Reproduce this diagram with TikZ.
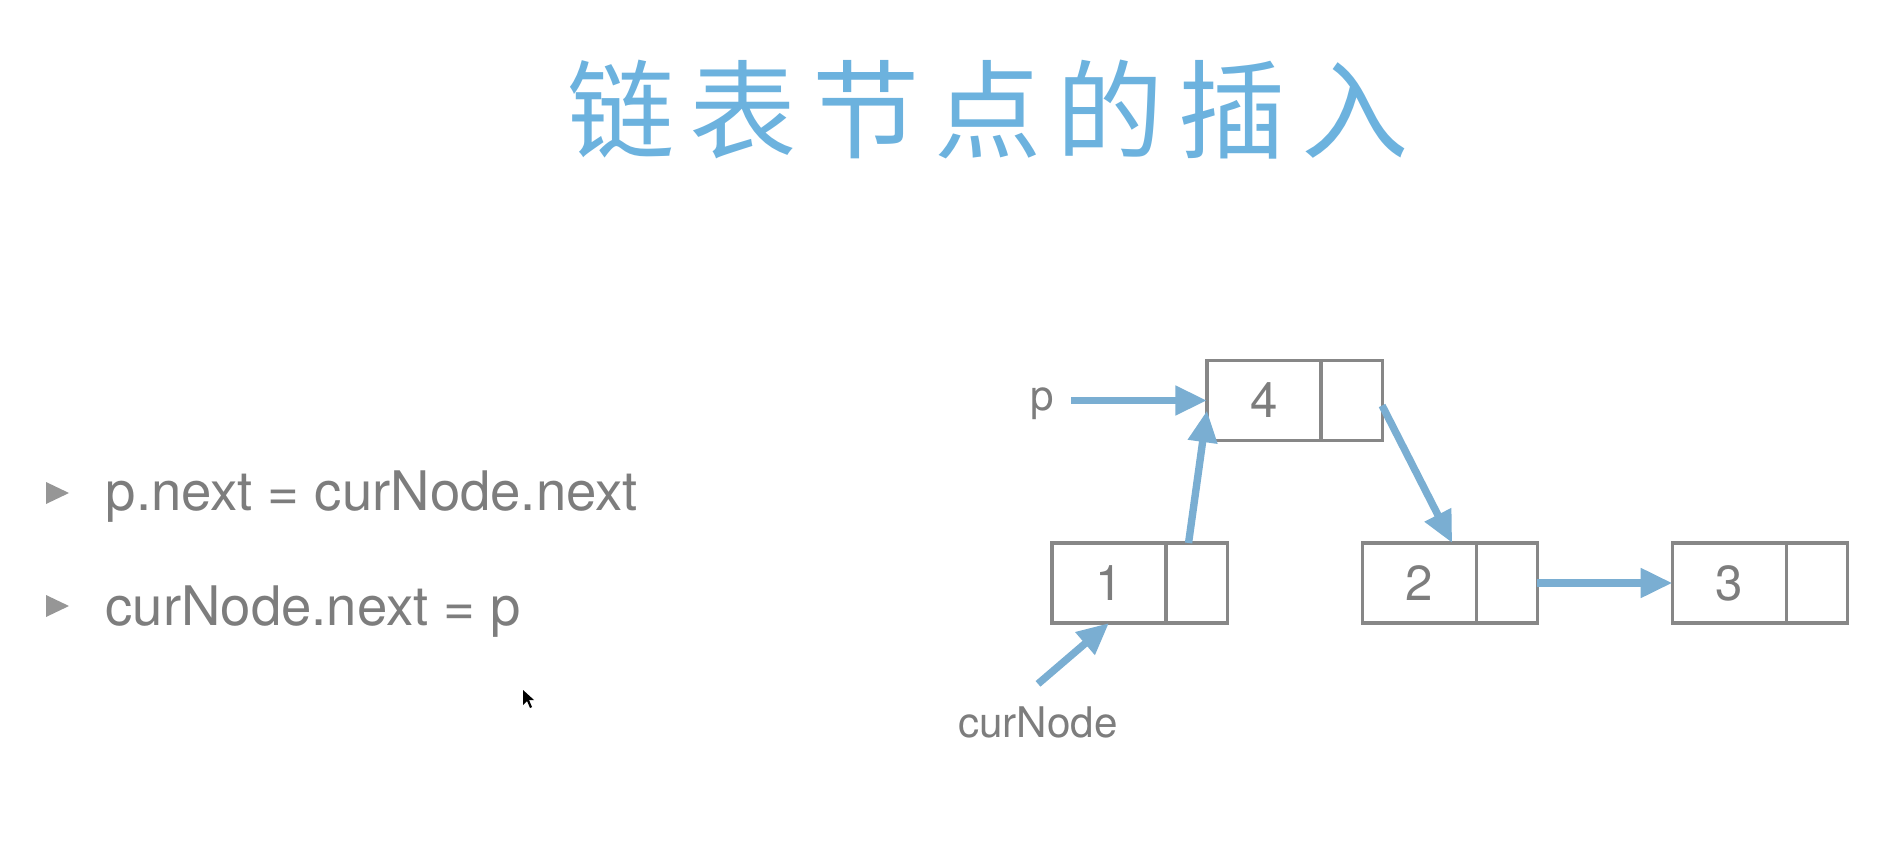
\documentclass[tikz,border=0pt]{standalone}
\usepackage{fontspec}
\setmainfont{TeX Gyre Heros}
\newfontfamily\cjk{Noto Sans CJK SC}[LetterSpace=14]
\usepackage{tikz}
\usetikzlibrary{calc,positioning,arrows.meta}
\definecolor{titleblue}{RGB}{108,178,222}
\definecolor{linkblue}{RGB}{122,174,210}
\definecolor{textgray}{RGB}{125,125,125}
\definecolor{boxgray}{RGB}{135,135,135}
\definecolor{bulletgray}{RGB}{150,150,150}

\begin{document}
\begin{tikzpicture}[x=0.01cm,y=-0.01cm,
    valcell/.style={draw=boxgray,line width=0.9pt,minimum width=1.14cm,minimum height=0.8cm,inner sep=0pt,outer sep=0pt,text=textgray,font=\fontsize{14}{14}\selectfont},
    ptrcell/.style={valcell,minimum width=0.61cm},
    nextarrow/.style={draw=linkblue,line width=2.1pt,-{Triangle[length=9pt,width=8pt]}},
    varname/.style={text=textgray,font=\fontsize{12}{12}\selectfont},
    codeline/.style={anchor=base west,inner sep=0pt,text=textgray,font=\fontsize{15.5}{15.5}\selectfont},
    ]
    \useasboundingbox (0,0) rectangle (1888,846);

    % title
    \node[text=titleblue,font=\cjk\fontsize{30.5}{30.5}\selectfont] (title) at (988,110) {链表节点的插入};

    % the two statements
    \node[codeline] (line1) at (105,510) {p.next = curNode.next};
    \node[codeline] (line2) at (105,625) {curNode.next = p};
    \fill[bulletgray] (46,482) -- (69,493) -- (46,504) -- cycle;
    \fill[bulletgray] (46,595) -- (69,606) -- (46,617) -- cycle;

    % list nodes
    \node[valcell] (n1) at (1109,583) {1};
    \node[ptrcell,right=0pt of n1] (n1p) {};
    \node[valcell,right=1.35cm of n1p] (n2) {2};
    \node[ptrcell,right=0pt of n2] (n2p) {};
    \node[valcell,right=1.35cm of n2p] (n3) {3};
    \node[ptrcell,right=0pt of n3] (n3p) {};
    \node[valcell] (n4) at (1264,400.5) {4};
    \node[ptrcell,right=0pt of n4] (n4p) {};

    % pointers
    \node[varname] (pvar) at (1042,404) {p};
    \node[varname] (curvar) at (1038,722) {curNode};

    \draw[nextarrow] ([xshift=0.05cm]pvar.east |- n4.west) -- (n4.west);
    \draw[nextarrow] ([xshift=-0.08cm]n1p.north) -- ([yshift=-0.1cm]n4.west);
    \draw[nextarrow] ([yshift=-0.05cm]n4p.east) -- ([xshift=0.33cm]n2.north);
    \draw[nextarrow] (n2p.east) -- (n3.west);
    \draw[nextarrow] ([yshift=0.1cm]curvar.north) -- (n1.south);

    % mouse pointer
    \fill[black] (523,690) -- (523,705) -- (527,701) -- (530,708) -- (532,707) -- (529,700) -- (534,700) -- cycle;
\end{tikzpicture}
\end{document}
